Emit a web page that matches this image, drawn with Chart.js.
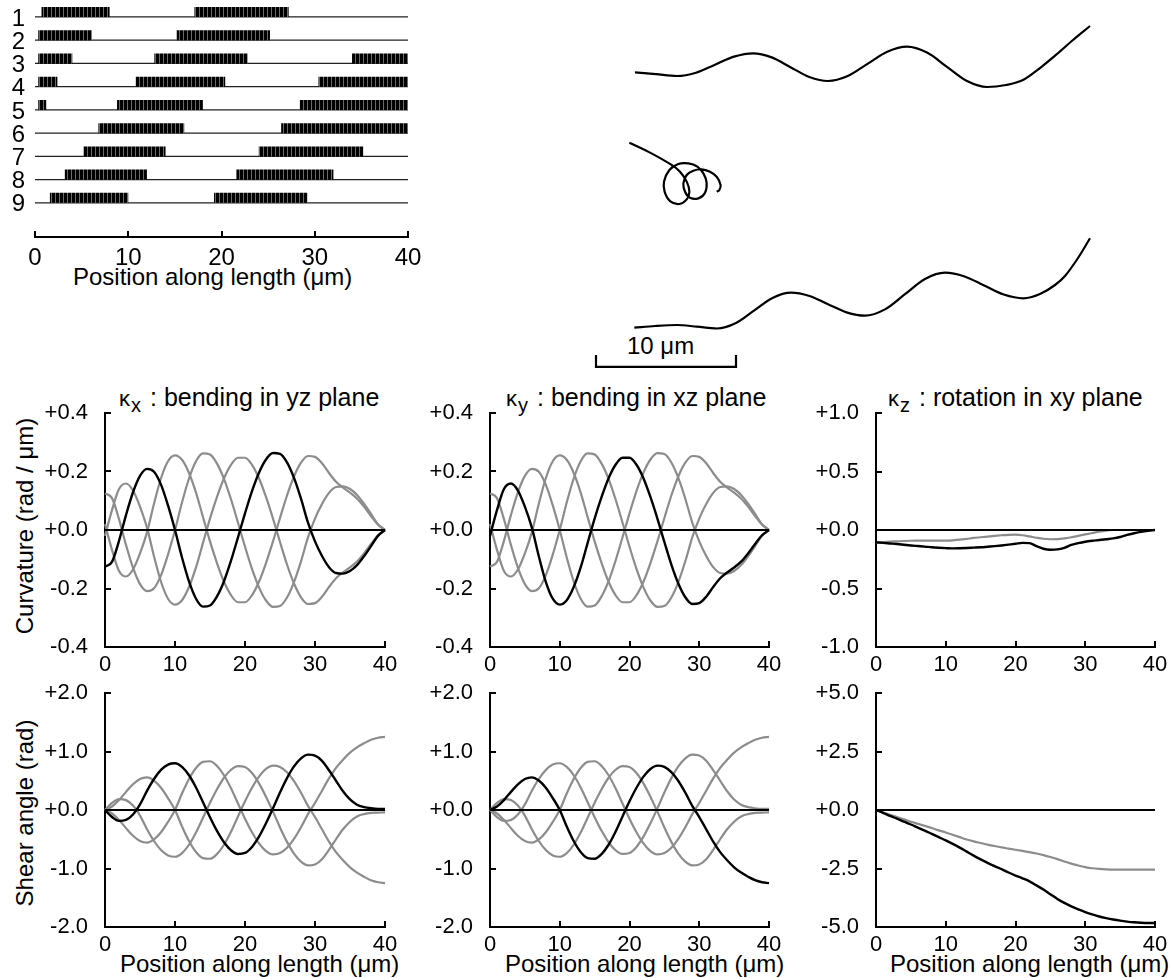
<!DOCTYPE html>
<html><head><meta charset="utf-8">
<script src="https://cdn.jsdelivr.net/npm/chart.js@4.4.1/dist/chart.umd.min.js"></script>
<style>
html,body{margin:0;padding:0;width:1170px;height:978px;overflow:hidden;background:#fff;position:relative;}
canvas{position:absolute;}
.t{position:absolute;font-family:'Liberation Sans',Arial,Helvetica,sans-serif;font-size:24px;line-height:24px;color:#000;white-space:nowrap;}
.h{font-size:25px;}
.v{transform:translate(-50%,-50%) rotate(-90deg);}
.k{font-size:22px;}
.sub{font-size:20px;position:relative;top:6px;margin-left:1px;margin-right:9px;}
</style></head><body>
<div class="t" style="left:73px;top:265px">Position along length (μm)</div>
<div class="t" style="left:627px;top:334px">10 μm</div>
<div class="t h" style="left:119px;top:385px"><span class="k">κ</span><span class="sub">x</span>: bending in yz plane</div>
<div class="t h" style="left:506px;top:385px"><span class="k">κ</span><span class="sub">y</span>: bending in xz plane</div>
<div class="t h" style="left:888px;top:385px"><span class="k">κ</span><span class="sub">z</span>: rotation in xy plane</div>
<div class="t v" style="left:25px;top:526px">Curvature (rad / μm)</div>
<div class="t v" style="left:25px;top:813px">Shear angle (rad)</div>
<div class="t" style="left:120px;top:952px">Position along length (μm)</div>
<div class="t" style="left:505px;top:952px">Position along length (μm)</div>
<div class="t" style="left:890px;top:952px">Position along length (μm)</div>
<script>
// ---------- DATA ----------
const pos = [0,1,2,3,4,5,6,7,8,9,10,11,12,13,14,15,16,17,18,19,20,21,22,23,24,25,26,27,28,29,30,31,32,33,34,35,36,37,38,39,40];

// barcode rows (on-segments, µm)
const rowNames = ['1','2','3','4','5','6','7','8','9'];
const row1 = [[0.7,8.0],[17.1,27.2]];
const row2 = [[0.35,6.1],[15.2,25.2]];
const row3 = [[0.35,4.0],[12.8,22.8],[34.0,40]];
const row4 = [[0.35,2.4],[10.8,20.4],[30.4,40]];
const row5 = [[0.35,1.2],[8.8,18.0],[28.4,40]];
const row6 = [[6.8,16.0],[26.4,40]];
const row7 = [[5.2,14.0],[24.0,35.2]];
const row8 = [[3.2,12.0],[21.6,32.0]];
const row9 = [[1.6,10.0],[19.2,29.2]];
const rows = [row1,row2,row3,row4,row5,row6,row7,row8,row9];

// filament shapes (µm)
const topX = [2.786,4.286,5.786,7.143,8.5,9.857,11.214,12.554,13.893,15.232,16.571,17.982,19.393,20.804,22.214,23.643,25.071,26.5,27.929,29.286,30.5,31.714,32.929,34.071,35.286];
const topY = [20.407,20.275,20.143,20.380,20.954,21.527,21.764,21.474,20.775,20.076,19.786,20.144,21.011,21.877,22.236,21.814,20.796,19.779,19.357,19.5,19.857,20.714,21.714,22.714,23.714];
const midX = [2.38,3.86,5.40,6.00,6.48,6.67,6.48,5.95,5.29,4.90,4.86,5.24,5.88,6.60,7.24,7.67,7.90,7.79,7.31,6.71,6.36,6.24,6.48,6.95,7.55,8.14,8.62,8.90,8.81,8.62];
const midY = [15.38,14.67,13.79,13.31,12.60,11.88,11.33,11.00,11.21,11.88,12.60,13.43,13.86,13.90,13.67,13.19,12.52,11.81,11.40,11.45,11.88,12.48,13.07,13.38,13.48,13.31,12.95,12.36,12.00,11.88];
const botX = [2.736,4.214,5.786,7.214,8.643,9.964,11.286,12.607,13.929,15.25,16.571,17.893,19.214,20.643,22.071,23.5,24.929,26.329,27.729,29.121,30.521,31.714,32.786,33.5,34.429,35.286];
const botY = [2.164,2.286,2.357,2.236,2.107,2.481,3.386,4.290,4.664,4.424,3.843,3.262,3.021,3.471,4.557,5.643,6.093,5.825,5.179,4.532,4.264,4.571,5.214,5.857,7.143,8.55];
const barX = [0,0,10,10];
const barY = [0.21,-0.64,-0.64,0.21];

// curvature (rad/µm)
const kapA = [-0.125,-0.109,-0.037,0.051,0.129,0.185,0.209,0.199,0.155,0.084,0.0,-0.094,-0.176,-0.235,-0.262,-0.258,-0.227,-0.175,-0.105,-0.025,0.057,0.133,0.196,0.241,0.263,0.260,0.231,0.178,0.107,0.025,-0.039,-0.089,-0.127,-0.147,-0.149,-0.140,-0.120,-0.090,-0.055,-0.020,0];
const kapAm = [0.125,0.109,0.037,-0.051,-0.129,-0.185,-0.209,-0.199,-0.155,-0.084,0.0,0.094,0.176,0.235,0.262,0.258,0.227,0.175,0.105,0.025,-0.057,-0.133,-0.196,-0.241,-0.263,-0.260,-0.231,-0.178,-0.107,-0.025,0.039,0.089,0.127,0.147,0.149,0.140,0.120,0.090,0.055,0.020,0];
const kapB = [-0.02,0.068,0.140,0.159,0.135,0.080,0.008,-0.090,-0.177,-0.235,-0.255,-0.240,-0.195,-0.128,-0.044,0.039,0.113,0.177,0.223,0.247,0.247,0.223,0.177,0.113,0.039,-0.041,-0.118,-0.183,-0.230,-0.253,-0.250,-0.228,-0.195,-0.165,-0.145,-0.128,-0.108,-0.080,-0.048,-0.018,0];
const kapBm = [0.02,-0.068,-0.140,-0.159,-0.135,-0.080,-0.008,0.090,0.177,0.235,0.255,0.240,0.195,0.128,0.044,-0.039,-0.113,-0.177,-0.223,-0.247,-0.247,-0.223,-0.177,-0.113,-0.039,0.041,0.118,0.183,0.230,0.253,0.250,0.228,0.195,0.165,0.145,0.128,0.108,0.080,0.048,0.018,0];
const kapZ1 = [-0.106,-0.110,-0.115,-0.120,-0.126,-0.132,-0.137,-0.142,-0.148,-0.152,-0.155,-0.157,-0.156,-0.154,-0.151,-0.148,-0.143,-0.138,-0.132,-0.125,-0.118,-0.110,-0.112,-0.138,-0.160,-0.169,-0.166,-0.152,-0.128,-0.112,-0.100,-0.092,-0.086,-0.079,-0.072,-0.060,-0.042,-0.028,-0.016,-0.007,0];
const kapZ2 = [-0.106,-0.104,-0.100,-0.097,-0.094,-0.092,-0.091,-0.090,-0.090,-0.090,-0.090,-0.088,-0.083,-0.076,-0.068,-0.062,-0.056,-0.050,-0.045,-0.041,-0.040,-0.045,-0.055,-0.066,-0.075,-0.079,-0.078,-0.072,-0.062,-0.050,-0.038,-0.026,-0.014,-0.005,0,0,0,0,0,0,0];

// shear angle (rad)
const shA = [0,-0.12,-0.186,-0.169,-0.076,0.096,0.328,0.530,0.685,0.777,0.799,0.737,0.594,0.385,0.134,-0.123,-0.356,-0.551,-0.688,-0.751,-0.734,-0.631,-0.456,-0.228,0.028,0.299,0.545,0.745,0.883,0.946,0.930,0.840,0.680,0.500,0.320,0.180,0.090,0.050,0.030,0.020,0.020];
const shAm = [0,0.12,0.186,0.169,0.076,-0.096,-0.328,-0.530,-0.685,-0.777,-0.799,-0.737,-0.594,-0.385,-0.134,0.123,0.356,0.551,0.688,0.751,0.734,0.631,0.456,0.228,-0.028,-0.299,-0.545,-0.745,-0.883,-0.946,-0.930,-0.840,-0.680,-0.500,-0.330,-0.200,-0.110,-0.070,-0.050,-0.045,-0.040];
const shB = [0,0.06,0.17,0.31,0.44,0.53,0.558,0.504,0.381,0.204,0.0,-0.281,-0.530,-0.718,-0.822,-0.833,-0.753,-0.594,-0.371,-0.110,0.148,0.380,0.571,0.702,0.759,0.737,0.646,0.495,0.296,0.070,-0.12,-0.33,-0.54,-0.72,-0.86,-0.98,-1.07,-1.14,-1.20,-1.235,-1.25];
const shBm = [0,-0.06,-0.17,-0.31,-0.44,-0.53,-0.558,-0.504,-0.381,-0.204,0.0,0.281,0.530,0.718,0.822,0.833,0.753,0.594,0.371,0.110,-0.148,-0.380,-0.571,-0.702,-0.759,-0.737,-0.646,-0.495,-0.296,-0.070,0.12,0.33,0.54,0.72,0.86,0.98,1.07,1.14,1.20,1.235,1.25];
const shZ1 = [0,-0.12,-0.25,-0.37,-0.50,-0.62,-0.75,-0.88,-1.02,-1.16,-1.30,-1.45,-1.61,-1.78,-1.95,-2.11,-2.26,-2.40,-2.53,-2.67,-2.80,-2.92,-3.05,-3.22,-3.40,-3.60,-3.80,-3.97,-4.12,-4.25,-4.36,-4.46,-4.55,-4.62,-4.68,-4.73,-4.77,-4.80,-4.82,-4.83,-4.83];
const shZ2 = [0,-0.10,-0.20,-0.30,-0.40,-0.50,-0.59,-0.68,-0.77,-0.87,-0.96,-1.06,-1.16,-1.26,-1.34,-1.41,-1.48,-1.54,-1.60,-1.65,-1.70,-1.75,-1.80,-1.86,-1.93,-2.01,-2.10,-2.20,-2.29,-2.37,-2.44,-2.49,-2.52,-2.54,-2.55,-2.55,-2.55,-2.55,-2.55,-2.55,-2.55];
const zeroX = [0,40];
const zeroY = [0,0];

// ---------- RENDERING ----------
const FONT = "'Liberation Sans', Arial, Helvetica, sans-serif";
const GRAY = '#8c8c8c';
function pts(xs, ys){ return xs.map((x,i)=>({x:x, y:ys[i]})); }
function curve(ys, color, w){ return {data:pts(pos, ys), borderColor:color, borderWidth:w, pointRadius:0, cubicInterpolationMode:'monotone', fill:false, clip:false}; }
function zero(){ return {data:pts(zeroX, zeroY), borderColor:'#000', borderWidth:2, pointRadius:0, fill:false, clip:false}; }
function signFmt(v){ if (Math.abs(v) < 1e-9) return '+0.0'; return (v > 0 ? '+' : '') + v.toFixed(1); }

function makeCanvas(left, top, w, h){
  const c = document.createElement('canvas');
  c.width = w; c.height = h;
  c.style.left = left + 'px'; c.style.top = top + 'px';
  c.style.width = w + 'px'; c.style.height = h + 'px';
  document.body.appendChild(c);
  return c;
}

const YW = 100, PT = 42, PR = 32, XH = 45;
function panel(area, yMin, yMax, yStep, datasets){
  const c = makeCanvas(area.l - YW, area.t - PT, area.r + PR - (area.l - YW), area.b + XH - (area.t - PT));
  new Chart(c, {
    type: 'line',
    data: {datasets: datasets},
    options: {
      responsive:false, animation:false, devicePixelRatio:1,
      layout:{padding:{top:PT, right:PR, left:0, bottom:0}},
      plugins:{legend:{display:false}, tooltip:{enabled:false}},
      elements:{point:{radius:0}},
      scales:{
        x:{type:'linear', min:0, max:40,
           ticks:{stepSize:10, color:'#000', font:{family:FONT, size:22}, padding:11, maxRotation:0, autoSkip:false},
           grid:{drawOnChartArea:false, color:'#000', tickColor:'#000', lineWidth:2, tickWidth:2, tickLength:-6},
           border:{color:'#000', width:2},
           afterFit:(s)=>{ s.height = XH; }},
        y:{type:'linear', min:yMin, max:yMax,
           ticks:{stepSize:yStep, color:'#000', font:{family:FONT, size:22}, padding:23, callback:(v)=>signFmt(v)},
           grid:{drawOnChartArea:false, color:'#000', tickColor:'#000', lineWidth:2, tickWidth:2, tickLength:-6},
           border:{color:'#000', width:2},
           afterFit:(s)=>{ s.width = YW; }}
      }
    }
  });
}

// bottom six panels
panel({l:105, r:385, t:413, b:647}, -0.4, 0.4, 0.2,
  [curve(kapA,'#000',2.4), zero(), curve(kapAm,GRAY,2.2), curve(kapB,GRAY,2.2), curve(kapBm,GRAY,2.2)]);
panel({l:490, r:769, t:413, b:647}, -0.4, 0.4, 0.2,
  [curve(kapB,'#000',2.4), zero(), curve(kapA,GRAY,2.2), curve(kapAm,GRAY,2.2), curve(kapBm,GRAY,2.2)]);
panel({l:876, r:1155, t:413, b:647}, -1, 1, 0.5,
  [curve(kapZ1,'#000',2.4), zero(), curve(kapZ2,GRAY,2.2)]);
panel({l:105, r:385, t:693, b:927}, -2, 2, 1,
  [curve(shA,'#000',2.4), zero(), curve(shAm,GRAY,2.2), curve(shB,GRAY,2.2), curve(shBm,GRAY,2.2)]);
panel({l:490, r:769, t:693, b:927}, -2, 2, 1,
  [curve(shB,'#000',2.4), zero(), curve(shA,GRAY,2.2), curve(shAm,GRAY,2.2), curve(shBm,GRAY,2.2)]);
panel({l:876, r:1155, t:693, b:927}, -5, 5, 2.5,
  [curve(shZ1,'#000',2.4), zero(), curve(shZ2,GRAY,2.2)]);

// barcode panel
(function(){
  const areaL = 35, areaR = 408, areaT = 0, areaB = 237, padT = 32, padR = 34, xh = 48;
  const c = makeCanvas(0, areaT - padT, areaR + padR, areaB + xh - (areaT - padT));
  const pc = document.createElement('canvas'); pc.width = 4; pc.height = 1;
  const g = pc.getContext('2d'); g.fillStyle = '#000'; g.fillRect(0,0,4,1); g.fillStyle = '#6a6a6a'; g.fillRect(3,0,1,1);
  const stripe = c.getContext('2d').createPattern(pc, 'repeat');
  const barShift = -0.215; // bar sits on top of the baseline
  const ds = [];
  rows.forEach((segs, i)=>{
    const r = i + 1;
    const d = [];
    segs.forEach(s=>{ d.push({x:s[0], y:r + barShift}); d.push({x:s[1], y:r + barShift}); d.push({x:s[1], y:null}); });
    ds.push({data:d, borderColor:stripe, borderWidth:10, borderCapStyle:'butt', pointRadius:0, tension:0, spanGaps:false, clip:false});
  });
  rows.forEach((segs, i)=>{
    ds.push({data:pts(zeroX, [i+1, i+1]), borderColor:'#222', borderWidth:1.3, pointRadius:0, clip:false});
  });
  new Chart(c, {
    type:'line',
    data:{datasets:ds},
    options:{
      responsive:false, animation:false, devicePixelRatio:1,
      layout:{padding:{top:padT, right:padR, left:0, bottom:0}},
      plugins:{legend:{display:false}, tooltip:{enabled:false}},
      scales:{
        x:{type:'linear', min:0, max:40,
           ticks:{stepSize:10, color:'#000', font:{family:FONT, size:24}, padding:13, maxRotation:0},
           grid:{drawOnChartArea:false, color:'#000', tickColor:'#000', lineWidth:2, tickWidth:2, tickLength:-6},
           border:{color:'#000', width:2},
           afterFit:(s)=>{ s.height = xh; }},
        y:{type:'linear', min:0.27, max:10.47, reverse:true,
           afterBuildTicks:(s)=>{ s.ticks = rowNames.map((n,i)=>({value:i+1})); },
           ticks:{color:'#000', font:{family:FONT, size:24}, padding:10, labelOffset:2, autoSkip:false, callback:(v)=>rowNames[Math.round(v)-1]},
           grid:{display:false, drawTicks:false},
           border:{display:false},
           afterFit:(s)=>{ s.width = areaL; }}
      }
    }
  });
})();

// filament shapes panel
(function(){
  const c = makeCanvas(590, 0, 540, 380);
  const wave = (xs, ys)=>({data:pts(xs, ys), borderColor:'#000', borderWidth:2.2, pointRadius:0, cubicInterpolationMode:'monotone', fill:false, clip:false});
  const loop = (xs, ys, t)=>({data:pts(xs, ys), borderColor:'#000', borderWidth:2.2, pointRadius:0, tension:t, fill:false, clip:false});
  new Chart(c, {
    type:'line',
    data:{datasets:[wave(topX, topY), loop(midX, midY, 0.4), wave(botX, botY), loop(barX, barY, 0)]},
    options:{
      responsive:false, animation:false, devicePixelRatio:1,
      layout:{padding:0},
      plugins:{legend:{display:false}, tooltip:{enabled:false}},
      scales:{
        x:{type:'linear', display:false, min:-6/14, max:534/14},
        y:{type:'linear', display:false, min:-22/14, max:358/14}
      }
    }
  });
})();
</script>
</body></html>
